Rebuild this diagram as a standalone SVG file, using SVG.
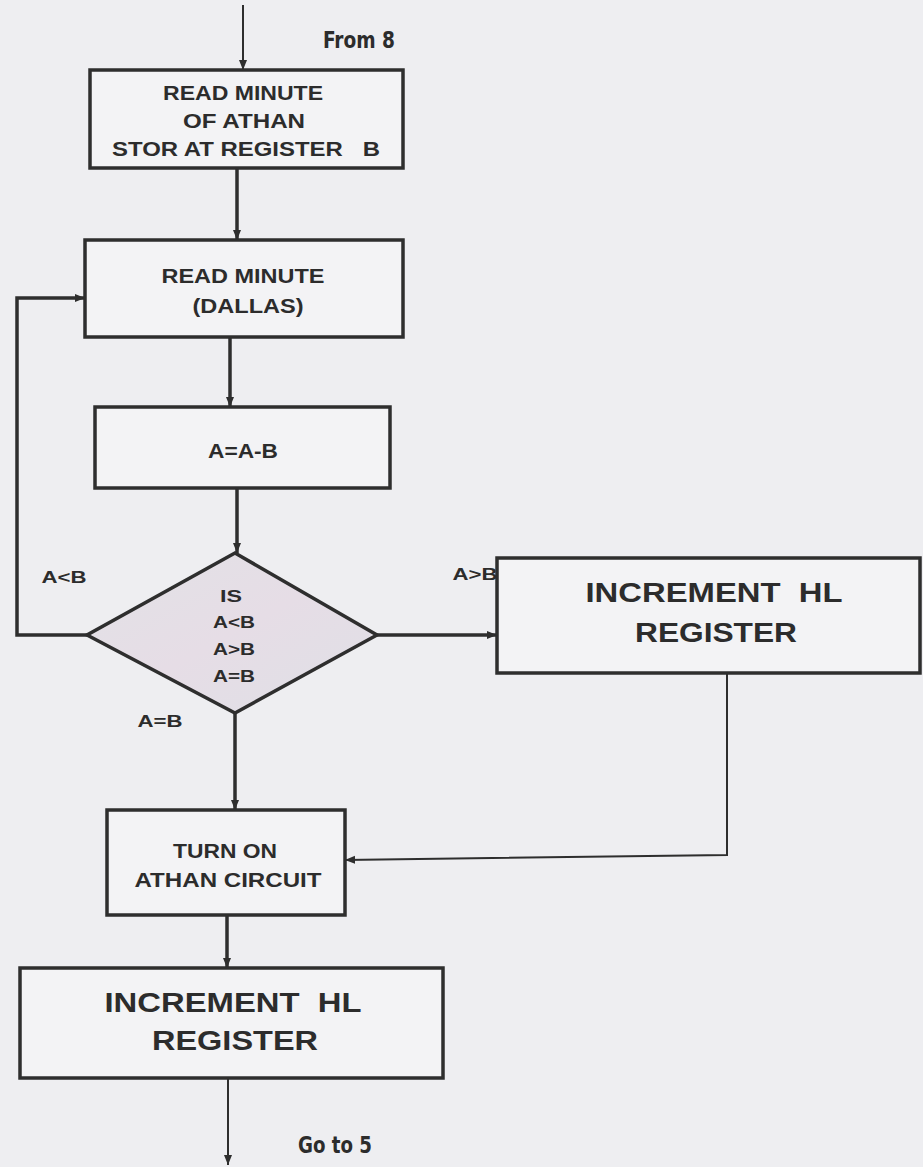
<svg xmlns="http://www.w3.org/2000/svg" width="923" height="1167" viewBox="0 0 923 1167">
<defs>
<style>
.box{fill:#f3f3f5;stroke:#2e2e2e;stroke-width:3.5}
.dia{fill:url(#dg);stroke:#2e2e2e;stroke-width:3.5}
.t{font-family:"Liberation Sans",Arial,sans-serif;font-weight:bold;fill:#2c2c2c;text-anchor:middle}
.s{font-size:20px}
.m{font-size:17px}
.l{font-size:27px}
.c{font-family:"DejaVu Sans Condensed","DejaVu Sans","Liberation Sans",sans-serif;font-weight:bold;fill:#2c2c2c;font-size:23px}
.w{fill:none;stroke:#2e2e2e;stroke-width:3.5}
.n{fill:none;stroke:#2e2e2e;stroke-width:2}
</style>
<linearGradient id="dg" x1="0" y1="0" x2="1" y2="1">
<stop offset="0" stop-color="#e2e2e6"/>
<stop offset="0.5" stop-color="#e6dde6"/>
<stop offset="1" stop-color="#dfe0e6"/>
</linearGradient>
<marker id="ah" markerUnits="userSpaceOnUse" markerWidth="12" markerHeight="10" refX="10" refY="5" orient="auto">
<path d="M0,1 L10,5 L0,9 z" fill="#2e2e2e"/>
</marker>
</defs>
<rect width="923" height="1167" fill="#eeeef1"/>

<g id="connectors">
<path class="n" d="M243,5 V70" marker-end="url(#ah)"/>
<path class="w" d="M237,168 V240" marker-end="url(#ah)"/>
<path class="w" d="M230,337 V407" marker-end="url(#ah)"/>
<path class="w" d="M237,488 V553" marker-end="url(#ah)"/>
<path class="w" d="M87,635 H17 V298 H85" marker-end="url(#ah)"/>
<path class="w" d="M377,635 H497" marker-end="url(#ah)"/>
<path class="w" d="M235,713 V810" marker-end="url(#ah)"/>
<path class="n" d="M727,673 V855 L345,860" marker-end="url(#ah)"/>
<path class="w" d="M227,915 V968" marker-end="url(#ah)"/>
<path class="n" d="M228,1078 V1165" marker-end="url(#ah)"/>
<text class="t m" x="64" y="583" textLength="45" lengthAdjust="spacingAndGlyphs">A&lt;B</text>
<text class="t m" x="475" y="580" textLength="45" lengthAdjust="spacingAndGlyphs">A&gt;B</text>
<text class="t m" x="160" y="727" textLength="45" lengthAdjust="spacingAndGlyphs">A=B</text>
<text class="c" x="323" y="48" textLength="72" lengthAdjust="spacingAndGlyphs">From 8</text>
<text class="c" x="298" y="1153" textLength="74" lengthAdjust="spacingAndGlyphs">Go to 5</text>
</g>

<g id="read-athan">
<rect class="box" x="90" y="70" width="313" height="98"/>
<text class="t s" x="243" y="100" textLength="160" lengthAdjust="spacingAndGlyphs">READ MINUTE</text>
<text class="t s" x="244" y="128" textLength="122" lengthAdjust="spacingAndGlyphs">OF ATHAN</text>
<text class="t s" x="246" y="156" textLength="268" lengthAdjust="spacingAndGlyphs" xml:space="preserve">STOR AT REGISTER   B</text>
</g>

<g id="read-dallas">
<rect class="box" x="85" y="240" width="318" height="97"/>
<text class="t s" x="243" y="283" textLength="163" lengthAdjust="spacingAndGlyphs">READ MINUTE</text>
<text class="t s" x="248" y="313" textLength="111" lengthAdjust="spacingAndGlyphs">(DALLAS)</text>
</g>

<g id="subtract">
<rect class="box" x="95" y="407" width="295" height="81"/>
<text class="t s" x="243" y="458" textLength="70" lengthAdjust="spacingAndGlyphs">A=A-B</text>
</g>

<g id="decision">
<polygon class="dia" points="235,553 377,635 235,713 87,635"/>
<text class="t m" x="231" y="602" textLength="22" lengthAdjust="spacingAndGlyphs">IS</text>
<text class="t m" x="234" y="628" textLength="42" lengthAdjust="spacingAndGlyphs">A&lt;B</text>
<text class="t m" x="234" y="655" textLength="42" lengthAdjust="spacingAndGlyphs">A&gt;B</text>
<text class="t m" x="234" y="682" textLength="42" lengthAdjust="spacingAndGlyphs">A=B</text>
</g>

<g id="increment-right">
<rect class="box" x="497" y="558" width="423" height="115"/>
<text class="t l" x="714" y="602" textLength="257" lengthAdjust="spacingAndGlyphs" xml:space="preserve">INCREMENT  HL</text>
<text class="t l" x="716" y="642" textLength="162" lengthAdjust="spacingAndGlyphs">REGISTER</text>
</g>

<g id="turn-on">
<rect class="box" x="107" y="810" width="238" height="105"/>
<text class="t s" x="225" y="858" textLength="104" lengthAdjust="spacingAndGlyphs">TURN ON</text>
<text class="t s" x="228" y="887" textLength="187" lengthAdjust="spacingAndGlyphs">ATHAN CIRCUIT</text>
</g>

<g id="increment-bottom">
<rect class="box" x="20" y="968" width="423" height="110"/>
<text class="t l" x="233" y="1012" textLength="257" lengthAdjust="spacingAndGlyphs" xml:space="preserve">INCREMENT  HL</text>
<text class="t l" x="235" y="1050" textLength="166" lengthAdjust="spacingAndGlyphs">REGISTER</text>
</g>
</svg>
